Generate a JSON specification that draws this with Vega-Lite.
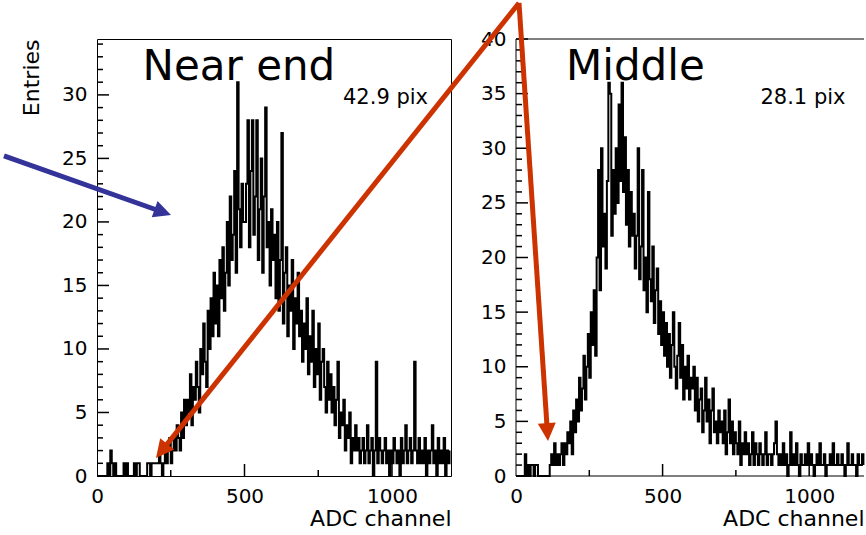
{
"$schema": "https://vega.github.io/schema/vega-lite/v6.json",
"padding": 0,
"spacing": 65,
"bounds": "flush",
"background": "white",
"config": {
  "font": "DejaVu Sans",
  "axis": {"ticks": false, "grid": false, "zindex": 2, "labelFont": "DejaVu Sans", "titleFont": "DejaVu Sans", "labelFontSize": 20, "titleFontSize": 22, "titleFontWeight": "normal", "labelColor": "black", "titleColor": "black", "domainColor": "black", "domainWidth": 1, "labelPadding": 10, "labelFlush": false, "labelOverlap": false, "format": "d"}
},
"datasets": {
"near": [
{"adc":0,"entries":0},{"adc":5,"entries":0},{"adc":10,"entries":0},{"adc":15,"entries":0},{"adc":20,"entries":0},{"adc":25,"entries":0},{"adc":30,"entries":0},{"adc":35,"entries":1},{"adc":40,"entries":0},{"adc":45,"entries":2},{"adc":50,"entries":1},{"adc":55,"entries":0},{"adc":60,"entries":1},{"adc":65,"entries":0},{"adc":70,"entries":0},{"adc":75,"entries":0},{"adc":80,"entries":0},{"adc":85,"entries":0},{"adc":90,"entries":1},{"adc":95,"entries":0},
{"adc":100,"entries":1},{"adc":105,"entries":0},{"adc":110,"entries":0},{"adc":115,"entries":0},{"adc":120,"entries":0},{"adc":125,"entries":1},{"adc":130,"entries":0},{"adc":135,"entries":1},{"adc":140,"entries":1},{"adc":145,"entries":0},{"adc":150,"entries":0},{"adc":155,"entries":0},{"adc":160,"entries":0},{"adc":165,"entries":0},{"adc":170,"entries":1},{"adc":175,"entries":1},{"adc":180,"entries":0},{"adc":185,"entries":1},{"adc":190,"entries":1},{"adc":195,"entries":1},
{"adc":200,"entries":1},{"adc":205,"entries":1},{"adc":210,"entries":2},{"adc":215,"entries":1},{"adc":220,"entries":0},{"adc":225,"entries":1},{"adc":230,"entries":2},{"adc":235,"entries":1},{"adc":240,"entries":2},{"adc":245,"entries":3},{"adc":250,"entries":1},{"adc":255,"entries":2},{"adc":260,"entries":3},{"adc":265,"entries":2},{"adc":270,"entries":4},{"adc":275,"entries":3},{"adc":280,"entries":2},{"adc":285,"entries":5},{"adc":290,"entries":3},{"adc":295,"entries":6},
{"adc":300,"entries":4},{"adc":305,"entries":6},{"adc":310,"entries":5},{"adc":315,"entries":8},{"adc":320,"entries":4},{"adc":325,"entries":7},{"adc":330,"entries":6},{"adc":335,"entries":9},{"adc":340,"entries":7},{"adc":345,"entries":5},{"adc":350,"entries":10},{"adc":355,"entries":8},{"adc":360,"entries":12},{"adc":365,"entries":9},{"adc":370,"entries":7},{"adc":375,"entries":13},{"adc":380,"entries":10},{"adc":385,"entries":14},{"adc":390,"entries":11},{"adc":395,"entries":16},
{"adc":400,"entries":12},{"adc":405,"entries":15},{"adc":410,"entries":11},{"adc":415,"entries":17},{"adc":420,"entries":14},{"adc":425,"entries":18},{"adc":430,"entries":13},{"adc":435,"entries":16},{"adc":440,"entries":20},{"adc":445,"entries":15},{"adc":450,"entries":22},{"adc":455,"entries":17},{"adc":460,"entries":19},{"adc":465,"entries":24},{"adc":470,"entries":16},{"adc":475,"entries":31},{"adc":480,"entries":21},{"adc":485,"entries":18},{"adc":490,"entries":23},{"adc":495,"entries":20},
{"adc":500,"entries":20},{"adc":505,"entries":23},{"adc":510,"entries":28},{"adc":515,"entries":18},{"adc":520,"entries":24},{"adc":525,"entries":28},{"adc":530,"entries":19},{"adc":535,"entries":22},{"adc":540,"entries":28},{"adc":545,"entries":17},{"adc":550,"entries":21},{"adc":555,"entries":25},{"adc":560,"entries":16},{"adc":565,"entries":22},{"adc":570,"entries":29},{"adc":575,"entries":18},{"adc":580,"entries":20},{"adc":585,"entries":15},{"adc":590,"entries":21},{"adc":595,"entries":17},
{"adc":600,"entries":19},{"adc":605,"entries":14},{"adc":610,"entries":20},{"adc":615,"entries":13},{"adc":620,"entries":17},{"adc":625,"entries":27},{"adc":630,"entries":12},{"adc":635,"entries":16},{"adc":640,"entries":18},{"adc":645,"entries":11},{"adc":650,"entries":15},{"adc":655,"entries":13},{"adc":660,"entries":17},{"adc":665,"entries":10},{"adc":670,"entries":14},{"adc":675,"entries":12},{"adc":680,"entries":16},{"adc":685,"entries":11},{"adc":690,"entries":13},{"adc":695,"entries":9},
{"adc":700,"entries":12},{"adc":705,"entries":10},{"adc":710,"entries":14},{"adc":715,"entries":8},{"adc":720,"entries":11},{"adc":725,"entries":9},{"adc":730,"entries":13},{"adc":735,"entries":7},{"adc":740,"entries":10},{"adc":745,"entries":8},{"adc":750,"entries":12},{"adc":755,"entries":6},{"adc":760,"entries":9},{"adc":765,"entries":10},{"adc":770,"entries":7},{"adc":775,"entries":5},{"adc":780,"entries":9},{"adc":785,"entries":6},{"adc":790,"entries":8},{"adc":795,"entries":5},
{"adc":800,"entries":7},{"adc":805,"entries":4},{"adc":810,"entries":6},{"adc":815,"entries":9},{"adc":820,"entries":3},{"adc":825,"entries":5},{"adc":830,"entries":4},{"adc":835,"entries":6},{"adc":840,"entries":2},{"adc":845,"entries":4},{"adc":850,"entries":3},{"adc":855,"entries":5},{"adc":860,"entries":1},{"adc":865,"entries":3},{"adc":870,"entries":2},{"adc":875,"entries":4},{"adc":880,"entries":2},{"adc":885,"entries":3},{"adc":890,"entries":1},{"adc":895,"entries":2},
{"adc":900,"entries":3},{"adc":905,"entries":1},{"adc":910,"entries":2},{"adc":915,"entries":4},{"adc":920,"entries":1},{"adc":925,"entries":2},{"adc":930,"entries":3},{"adc":935,"entries":0},{"adc":940,"entries":2},{"adc":945,"entries":9},{"adc":950,"entries":1},{"adc":955,"entries":3},{"adc":960,"entries":2},{"adc":965,"entries":1},{"adc":970,"entries":2},{"adc":975,"entries":3},{"adc":980,"entries":1},{"adc":985,"entries":2},{"adc":990,"entries":0},{"adc":995,"entries":2},
{"adc":1000,"entries":1},{"adc":1005,"entries":3},{"adc":1010,"entries":2},{"adc":1015,"entries":1},{"adc":1020,"entries":2},{"adc":1025,"entries":0},{"adc":1030,"entries":3},{"adc":1035,"entries":1},{"adc":1040,"entries":2},{"adc":1045,"entries":4},{"adc":1050,"entries":1},{"adc":1055,"entries":2},{"adc":1060,"entries":3},{"adc":1065,"entries":1},{"adc":1070,"entries":2},{"adc":1075,"entries":9},{"adc":1080,"entries":2},{"adc":1085,"entries":1},{"adc":1090,"entries":3},{"adc":1095,"entries":1},
{"adc":1100,"entries":2},{"adc":1105,"entries":1},{"adc":1110,"entries":3},{"adc":1115,"entries":0},{"adc":1120,"entries":2},{"adc":1125,"entries":1},{"adc":1130,"entries":2},{"adc":1135,"entries":4},{"adc":1140,"entries":1},{"adc":1145,"entries":2},{"adc":1150,"entries":0},{"adc":1155,"entries":3},{"adc":1160,"entries":1},{"adc":1165,"entries":2},{"adc":1170,"entries":1},{"adc":1175,"entries":3},{"adc":1180,"entries":0},{"adc":1185,"entries":2},{"adc":1190,"entries":1},{"adc":1195,"entries":2}
],
"middle": [
{"adc":0,"entries":0},{"adc":5,"entries":0},{"adc":10,"entries":0},{"adc":15,"entries":0},{"adc":20,"entries":0},{"adc":25,"entries":0},{"adc":30,"entries":2},{"adc":35,"entries":0},{"adc":40,"entries":1},{"adc":45,"entries":0},{"adc":50,"entries":1},{"adc":55,"entries":1},{"adc":60,"entries":0},{"adc":65,"entries":1},{"adc":70,"entries":1},{"adc":75,"entries":0},{"adc":80,"entries":0},{"adc":85,"entries":0},{"adc":90,"entries":0},{"adc":95,"entries":0},
{"adc":100,"entries":0},{"adc":105,"entries":0},{"adc":110,"entries":0},{"adc":115,"entries":1},{"adc":120,"entries":2},{"adc":125,"entries":1},{"adc":130,"entries":3},{"adc":135,"entries":1},{"adc":140,"entries":2},{"adc":145,"entries":1},{"adc":150,"entries":2},{"adc":155,"entries":3},{"adc":160,"entries":1},{"adc":165,"entries":3},{"adc":170,"entries":2},{"adc":175,"entries":4},{"adc":180,"entries":3},{"adc":185,"entries":5},{"adc":190,"entries":2},{"adc":195,"entries":6},
{"adc":200,"entries":4},{"adc":205,"entries":7},{"adc":210,"entries":5},{"adc":215,"entries":9},{"adc":220,"entries":6},{"adc":225,"entries":8},{"adc":230,"entries":11},{"adc":235,"entries":7},{"adc":240,"entries":10},{"adc":245,"entries":13},{"adc":250,"entries":9},{"adc":255,"entries":15},{"adc":260,"entries":12},{"adc":265,"entries":17},{"adc":270,"entries":11},{"adc":275,"entries":20},{"adc":280,"entries":28},{"adc":285,"entries":17},{"adc":290,"entries":30},{"adc":295,"entries":21},
{"adc":300,"entries":24},{"adc":305,"entries":19},{"adc":310,"entries":27},{"adc":315,"entries":36},{"adc":320,"entries":35},{"adc":325,"entries":22},{"adc":330,"entries":28},{"adc":335,"entries":24},{"adc":340,"entries":30},{"adc":345,"entries":25},{"adc":350,"entries":34},{"adc":355,"entries":27},{"adc":360,"entries":36},{"adc":365,"entries":26},{"adc":370,"entries":31},{"adc":375,"entries":23},{"adc":380,"entries":28},{"adc":385,"entries":21},{"adc":390,"entries":26},{"adc":395,"entries":22},
{"adc":400,"entries":24},{"adc":405,"entries":19},{"adc":410,"entries":22},{"adc":415,"entries":30},{"adc":420,"entries":18},{"adc":425,"entries":21},{"adc":430,"entries":28},{"adc":435,"entries":17},{"adc":440,"entries":20},{"adc":445,"entries":15},{"adc":450,"entries":26},{"adc":455,"entries":18},{"adc":460,"entries":16},{"adc":465,"entries":21},{"adc":470,"entries":14},{"adc":475,"entries":17},{"adc":480,"entries":19},{"adc":485,"entries":13},{"adc":490,"entries":16},{"adc":495,"entries":12},
{"adc":500,"entries":15},{"adc":505,"entries":11},{"adc":510,"entries":14},{"adc":515,"entries":10},{"adc":520,"entries":13},{"adc":525,"entries":9},{"adc":530,"entries":12},{"adc":535,"entries":15},{"adc":540,"entries":10},{"adc":545,"entries":8},{"adc":550,"entries":11},{"adc":555,"entries":14},{"adc":560,"entries":9},{"adc":565,"entries":12},{"adc":570,"entries":7},{"adc":575,"entries":10},{"adc":580,"entries":8},{"adc":585,"entries":11},{"adc":590,"entries":7},{"adc":595,"entries":9},
{"adc":600,"entries":8},{"adc":605,"entries":10},{"adc":610,"entries":6},{"adc":615,"entries":9},{"adc":620,"entries":5},{"adc":625,"entries":7},{"adc":630,"entries":8},{"adc":635,"entries":4},{"adc":640,"entries":6},{"adc":645,"entries":9},{"adc":650,"entries":5},{"adc":655,"entries":7},{"adc":660,"entries":3},{"adc":665,"entries":6},{"adc":670,"entries":8},{"adc":675,"entries":4},{"adc":680,"entries":5},{"adc":685,"entries":3},{"adc":690,"entries":6},{"adc":695,"entries":4},
{"adc":700,"entries":5},{"adc":705,"entries":3},{"adc":710,"entries":6},{"adc":715,"entries":2},{"adc":720,"entries":4},{"adc":725,"entries":7},{"adc":730,"entries":3},{"adc":735,"entries":5},{"adc":740,"entries":2},{"adc":745,"entries":4},{"adc":750,"entries":3},{"adc":755,"entries":2},{"adc":760,"entries":5},{"adc":765,"entries":1},{"adc":770,"entries":3},{"adc":775,"entries":2},{"adc":780,"entries":4},{"adc":785,"entries":2},{"adc":790,"entries":3},{"adc":795,"entries":1},
{"adc":800,"entries":2},{"adc":805,"entries":4},{"adc":810,"entries":1},{"adc":815,"entries":3},{"adc":820,"entries":2},{"adc":825,"entries":1},{"adc":830,"entries":3},{"adc":835,"entries":2},{"adc":840,"entries":1},{"adc":845,"entries":2},{"adc":850,"entries":4},{"adc":855,"entries":1},{"adc":860,"entries":2},{"adc":865,"entries":2},{"adc":870,"entries":1},{"adc":875,"entries":2},{"adc":880,"entries":3},{"adc":885,"entries":5},{"adc":890,"entries":2},{"adc":895,"entries":1},
{"adc":900,"entries":2},{"adc":905,"entries":1},{"adc":910,"entries":3},{"adc":915,"entries":1},{"adc":920,"entries":2},{"adc":925,"entries":0},{"adc":930,"entries":1},{"adc":935,"entries":4},{"adc":940,"entries":1},{"adc":945,"entries":2},{"adc":950,"entries":1},{"adc":955,"entries":3},{"adc":960,"entries":1},{"adc":965,"entries":0},{"adc":970,"entries":2},{"adc":975,"entries":1},{"adc":980,"entries":1},{"adc":985,"entries":2},{"adc":990,"entries":1},{"adc":995,"entries":3},
{"adc":1000,"entries":1},{"adc":1005,"entries":2},{"adc":1010,"entries":1},{"adc":1015,"entries":0},{"adc":1020,"entries":1},{"adc":1025,"entries":2},{"adc":1030,"entries":1},{"adc":1035,"entries":3},{"adc":1040,"entries":1},{"adc":1045,"entries":1},{"adc":1050,"entries":2},{"adc":1055,"entries":0},{"adc":1060,"entries":1},{"adc":1065,"entries":1},{"adc":1070,"entries":2},{"adc":1075,"entries":1},{"adc":1080,"entries":3},{"adc":1085,"entries":1},{"adc":1090,"entries":1},{"adc":1095,"entries":2},
{"adc":1100,"entries":1},{"adc":1105,"entries":1},{"adc":1110,"entries":2},{"adc":1115,"entries":1},{"adc":1120,"entries":0},{"adc":1125,"entries":1},{"adc":1130,"entries":3},{"adc":1135,"entries":1},{"adc":1140,"entries":1},{"adc":1145,"entries":2},{"adc":1150,"entries":1},{"adc":1155,"entries":1},{"adc":1160,"entries":0},{"adc":1165,"entries":2},{"adc":1170,"entries":1},{"adc":1175,"entries":1},{"adc":1180,"entries":2},{"adc":1185,"entries":1}
]
},
"hconcat": [
{
  "width": 354, "height": 437,
  "view": {"stroke": "black", "strokeWidth": 1},
  "resolve": {"axis": {"x": "independent", "y": "independent"}},
  "layer": [
    {"data": {"name": "near"},
     "mark": {"type": "line", "interpolate": "step-after", "color": "black", "strokeWidth": 2},
     "encoding": {
       "x": {"field": "adc", "type": "quantitative", "scale": {"domain": [0, 1200], "nice": false, "zero": false},
             "axis": {"orient": "bottom", "values": [0, 500, 1000], "domain": false, "title": "ADC channel", "titleAnchor": "end", "titlePadding": 2}},
       "y": {"field": "entries", "type": "quantitative", "scale": {"domain": [0, 34.4], "nice": false, "zero": false},
             "axis": {"orient": "left", "values": [0, 5, 10, 15, 20, 25, 30], "domain": false, "title": "Entries", "titleAnchor": "end", "titlePadding": 18}}
     }},
    {"data": {"values": [{"v":5},{"v":10},{"v":15},{"v":20},{"v":25},{"v":30}]},
     "mark": {"type": "rule", "color": "black", "strokeWidth": 1.5},
     "encoding": {
       "y": {"field": "v", "type": "quantitative", "scale": {"domain": [0, 34.4], "nice": false, "zero": false}, "axis": null},
       "x": {"datum": 0, "type": "quantitative", "scale": {"domain": [0, 1200], "nice": false, "zero": false}, "axis": null},
       "x2": {"datum": 40.7}
     }},
    {"data": {"values": [{"v":1},{"v":2},{"v":3},{"v":4},{"v":6},{"v":7},{"v":8},{"v":9},{"v":11},{"v":12},{"v":13},{"v":14},{"v":16},{"v":17},{"v":18},{"v":19},{"v":21},{"v":22},{"v":23},{"v":24},{"v":26},{"v":27},{"v":28},{"v":29},{"v":31},{"v":32},{"v":33},{"v":34}]},
     "mark": {"type": "rule", "color": "black", "strokeWidth": 1.5},
     "encoding": {
       "y": {"field": "v", "type": "quantitative", "scale": {"domain": [0, 34.4], "nice": false, "zero": false}, "axis": null},
       "x": {"datum": 0, "type": "quantitative", "scale": {"domain": [0, 1200], "nice": false, "zero": false}, "axis": null},
       "x2": {"datum": 20.3}
     }},
    {"data": {"values": [{"v":500},{"v":1000}]},
     "mark": {"type": "rule", "color": "black", "strokeWidth": 1.5},
     "encoding": {
       "x": {"field": "v", "type": "quantitative", "scale": {"domain": [0, 1200], "nice": false, "zero": false}, "axis": null},
       "y": {"datum": 0, "type": "quantitative", "scale": {"domain": [0, 34.4], "nice": false, "zero": false}, "axis": null},
       "y2": {"datum": 0.945}
     }},
    {"data": {"values": [{"v":250},{"v":750}]},
     "mark": {"type": "rule", "color": "black", "strokeWidth": 1.5},
     "encoding": {
       "x": {"field": "v", "type": "quantitative", "scale": {"domain": [0, 1200], "nice": false, "zero": false}, "axis": null},
       "y": {"datum": 0, "type": "quantitative", "scale": {"domain": [0, 34.4], "nice": false, "zero": false}, "axis": null},
       "y2": {"datum": 0.472}
     }},
    {"data": {"values": [{}]},
     "mark": {"type": "text", "text": "Near end", "font": "DejaVu Sans", "fontSize": 42, "align": "center", "baseline": "alphabetic", "color": "black"},
     "encoding": {
       "x": {"datum": 481, "type": "quantitative", "scale": {"domain": [0, 1200], "nice": false, "zero": false}, "axis": null},
       "y": {"datum": 31.2, "type": "quantitative", "scale": {"domain": [0, 34.4], "nice": false, "zero": false}, "axis": null}
     }},
    {"data": {"values": [{}]},
     "mark": {"type": "text", "text": "42.9 pix", "font": "DejaVu Sans", "fontSize": 21, "align": "center", "baseline": "alphabetic", "color": "black"},
     "encoding": {
       "x": {"datum": 978, "type": "quantitative", "scale": {"domain": [0, 1200], "nice": false, "zero": false}, "axis": null},
       "y": {"datum": 29.28, "type": "quantitative", "scale": {"domain": [0, 34.4], "nice": false, "zero": false}, "axis": null}
     }},
    {"data": {"values": [{}]},
     "mark": {"type": "rule", "color": "#333399", "strokeWidth": 5, "strokeCap": "butt"},
     "encoding": {
       "x": {"datum": -315.3, "type": "quantitative", "scale": {"domain": [0, 1200], "nice": false, "zero": false}, "axis": null},
       "y": {"datum": 25.2, "type": "quantitative", "scale": {"domain": [0, 34.4], "nice": false, "zero": false}, "axis": null},
       "x2": {"datum": 212.5},
       "y2": {"datum": 20.86}
     }},
    {"data": {"values": [{}]},
     "mark": {"type": "point", "shape": "M0,0L1,2L-1,2Z", "size": 300, "filled": true, "color": "#333399", "opacity": 1, "strokeWidth": 0, "angle": 109.5},
     "encoding": {
       "x": {"datum": 250.8, "type": "quantitative", "scale": {"domain": [0, 1200], "nice": false, "zero": false}, "axis": null},
       "y": {"datum": 20.55, "type": "quantitative", "scale": {"domain": [0, 34.4], "nice": false, "zero": false}, "axis": null}
     }}
  ]
},
{
  "width": 348, "height": 437,
  "view": {"stroke": null},
  "resolve": {"axis": {"x": "independent", "y": "independent"}},
  "layer": [
    {"data": {"values": [{}]},
     "mark": {"type": "rule", "color": "black", "strokeWidth": 1},
     "encoding": {
       "y": {"datum": 40, "type": "quantitative", "scale": {"domain": [0, 40], "nice": false, "zero": false}, "axis": null}
     }},
    {"data": {"values": [{}]},
     "mark": {"type": "rule", "color": "black", "strokeWidth": 1},
     "encoding": {
       "y": {"datum": 0, "type": "quantitative", "scale": {"domain": [0, 40], "nice": false, "zero": false}, "axis": null}
     }},
    {"data": {"values": [{}]},
     "mark": {"type": "rule", "color": "black", "strokeWidth": 1},
     "encoding": {
       "x": {"datum": 0, "type": "quantitative", "scale": {"domain": [0, 1187], "nice": false, "zero": false}, "axis": null}
     }},
    {"data": {"name": "middle"},
     "mark": {"type": "line", "interpolate": "step-after", "color": "black", "strokeWidth": 2},
     "encoding": {
       "x": {"field": "adc", "type": "quantitative", "scale": {"domain": [0, 1187], "nice": false, "zero": false},
             "axis": {"orient": "bottom", "values": [0, 500, 1000], "domain": false, "title": "ADC channel", "titleAnchor": "end", "titlePadding": 2}},
       "y": {"field": "entries", "type": "quantitative", "scale": {"domain": [0, 40], "nice": false, "zero": false},
             "axis": {"orient": "left", "values": [0, 5, 10, 15, 20, 25, 30, 35, 40], "domain": false, "title": null}}
     }},
    {"data": {"values": [{"v":5},{"v":10},{"v":15},{"v":20},{"v":25},{"v":30},{"v":35},{"v":40}]},
     "mark": {"type": "rule", "color": "black", "strokeWidth": 1.5},
     "encoding": {
       "y": {"field": "v", "type": "quantitative", "scale": {"domain": [0, 40], "nice": false, "zero": false}, "axis": null},
       "x": {"datum": 0, "type": "quantitative", "scale": {"domain": [0, 1187], "nice": false, "zero": false}, "axis": null},
       "x2": {"datum": 40.9}
     }},
    {"data": {"values": [{"v":1},{"v":2},{"v":3},{"v":4},{"v":6},{"v":7},{"v":8},{"v":9},{"v":11},{"v":12},{"v":13},{"v":14},{"v":16},{"v":17},{"v":18},{"v":19},{"v":21},{"v":22},{"v":23},{"v":24},{"v":26},{"v":27},{"v":28},{"v":29},{"v":31},{"v":32},{"v":33},{"v":34},{"v":36},{"v":37},{"v":38},{"v":39}]},
     "mark": {"type": "rule", "color": "black", "strokeWidth": 1.5},
     "encoding": {
       "y": {"field": "v", "type": "quantitative", "scale": {"domain": [0, 40], "nice": false, "zero": false}, "axis": null},
       "x": {"datum": 0, "type": "quantitative", "scale": {"domain": [0, 1187], "nice": false, "zero": false}, "axis": null},
       "x2": {"datum": 20.5}
     }},
    {"data": {"values": [{"v":500},{"v":1000}]},
     "mark": {"type": "rule", "color": "black", "strokeWidth": 1.5},
     "encoding": {
       "x": {"field": "v", "type": "quantitative", "scale": {"domain": [0, 1187], "nice": false, "zero": false}, "axis": null},
       "y": {"datum": 0, "type": "quantitative", "scale": {"domain": [0, 40], "nice": false, "zero": false}, "axis": null},
       "y2": {"datum": 1.1}
     }},
    {"data": {"values": [{"v":250},{"v":750}]},
     "mark": {"type": "rule", "color": "black", "strokeWidth": 1.5},
     "encoding": {
       "x": {"field": "v", "type": "quantitative", "scale": {"domain": [0, 1187], "nice": false, "zero": false}, "axis": null},
       "y": {"datum": 0, "type": "quantitative", "scale": {"domain": [0, 40], "nice": false, "zero": false}, "axis": null},
       "y2": {"datum": 0.55}
     }},
    {"data": {"values": [{}]},
     "mark": {"type": "text", "text": "Middle", "font": "DejaVu Sans", "fontSize": 42, "align": "left", "baseline": "alphabetic", "color": "black"},
     "encoding": {
       "x": {"datum": 170.5, "type": "quantitative", "scale": {"domain": [0, 1187], "nice": false, "zero": false}, "axis": null},
       "y": {"datum": 36.27, "type": "quantitative", "scale": {"domain": [0, 40], "nice": false, "zero": false}, "axis": null}
     }},
    {"data": {"values": [{}]},
     "mark": {"type": "text", "text": "28.1 pix", "font": "DejaVu Sans", "fontSize": 21, "align": "center", "baseline": "alphabetic", "color": "black"},
     "encoding": {
       "x": {"datum": 978.9, "type": "quantitative", "scale": {"domain": [0, 1187], "nice": false, "zero": false}, "axis": null},
       "y": {"datum": 34.05, "type": "quantitative", "scale": {"domain": [0, 40], "nice": false, "zero": false}, "axis": null}
     }},
    {"data": {"values": [{}]},
     "mark": {"type": "rule", "color": "#cc3300", "strokeWidth": 5, "strokeCap": "butt"},
     "encoding": {
       "x": {"datum": 10.2, "type": "quantitative", "scale": {"domain": [0, 1187], "nice": false, "zero": false}, "axis": null},
       "y": {"datum": 43.3, "type": "quantitative", "scale": {"domain": [0, 40], "nice": false, "zero": false}, "axis": null},
       "x2": {"datum": -1202.3},
       "y2": {"datum": 2.51}
     }},
    {"data": {"values": [{}]},
     "mark": {"type": "rule", "color": "#cc3300", "strokeWidth": 5, "strokeCap": "butt"},
     "encoding": {
       "x": {"datum": 10.2, "type": "quantitative", "scale": {"domain": [0, 1187], "nice": false, "zero": false}, "axis": null},
       "y": {"datum": 43.3, "type": "quantitative", "scale": {"domain": [0, 40], "nice": false, "zero": false}, "axis": null},
       "x2": {"datum": 106.4},
       "y2": {"datum": 4.3}
     }},
    {"data": {"values": [{}]},
     "mark": {"type": "point", "shape": "M0,0L1,2L-1,2Z", "size": 324, "filled": true, "color": "#cc3300", "opacity": 1, "strokeWidth": 0, "angle": 218.6},
     "encoding": {
       "x": {"datum": -1227.9, "type": "quantitative", "scale": {"domain": [0, 1187], "nice": false, "zero": false}, "axis": null},
       "y": {"datum": 1.65, "type": "quantitative", "scale": {"domain": [0, 40], "nice": false, "zero": false}, "axis": null}
     }},
    {"data": {"values": [{}]},
     "mark": {"type": "point", "shape": "M0,0L1,2L-1,2Z", "size": 324, "filled": true, "color": "#cc3300", "opacity": 1, "strokeWidth": 0, "angle": 176.2},
     "encoding": {
       "x": {"datum": 109.1, "type": "quantitative", "scale": {"domain": [0, 1187], "nice": false, "zero": false}, "axis": null},
       "y": {"datum": 3.2, "type": "quantitative", "scale": {"domain": [0, 40], "nice": false, "zero": false}, "axis": null}
     }}
  ]
}
]
}
